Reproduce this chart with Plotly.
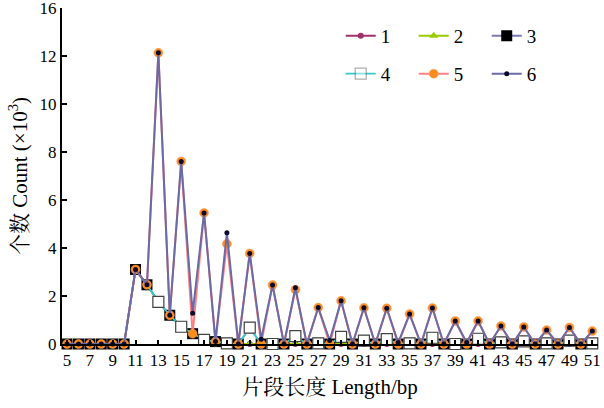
import plotly.graph_objects as go

# ---- data ----
lengths = list(range(5, 52))
s1 = [0, 0, 0, 0, 0, 0, 3.11, 2.47, 1.76, 1.2, 0.72, 0.43, 0.17, 0.1, 0.03, 0,
      0, 0, 0, 0, 0, 0, 0, 0, 0, 0, 0, 0, 0, 0, 0, 0,
      0, 0, 0, 0, 0, 0, 0, 0, 0, 0, 0, 0, 0, 0, 0]
s2 = [0, 0, 0, 0, 0, 0, 3.11, 2.47, 1.76, 1.2, 0.72, 0.43, 0.17, 0.1, 0.03, 0,
      0, 0, 0, 0, 0, 0, 0, 0, 0, 0, 0, 0, 0, 0, 0, 0,
      0, 0, 0, 0, 0, 0, 0, 0, 0, 0, 0, 0, 0, 0, 0]
s3 = [0, 0, 0, 0, 0, 0, 3.11, 2.47, 1.76, 1.2, 0.72, 0.43, 0.17, 0.1, 0.03, 0,
      0.68, 0, 0, 0, 0.33, 0, 0.03, 0, 0.3, 0, 0.14, 0, 0.2, 0, 0.03, 0,
      0.26, 0, 0, 0, 0.22, 0, 0.07, 0, 0.11, 0, 0.03, 0, 0.14, 0, 0.03]
s4 = [0, 0, 0, 0, 0, 0, 3.11, 2.47, 1.76, 1.2, 0.72, 0.43, 0.17, 0.1, 0.03, 0,
      0.68, 0, 0, 0, 0.33, 0, 0.03, 0, 0.3, 0, 0.14, 0, 0.2, 0, 0.03, 0,
      0.26, 0, 0, 0, 0.22, 0, 0.07, 0, 0.11, 0, 0.03, 0, 0.14, 0, 0.03]
s5 = [0, 0, 0, 0, 0, 0, 3.11, 2.47, 12.15, 1.2, 7.62, 0.43, 5.47, 0.1, 4.18, 0,
      3.78, 0, 2.46, 0, 2.27, 0, 1.52, 0, 1.8, 0, 1.51, 0, 1.49, 0, 1.25, 0,
      1.5, 0, 0.96, 0, 0.96, 0, 0.75, 0, 0.71, 0, 0.58, 0, 0.69, 0, 0.54]
s6 = [0, 0, 0, 0, 0, 0, 3.11, 2.47, 12.15, 1.2, 7.62, 1.28, 5.47, 0.1, 4.64, 0,
      3.78, 0.2, 2.46, 0, 2.35, 0, 1.52, 0.15, 1.8, 0, 1.51, 0, 1.49, 0.06, 1.25, 0,
      1.5, 0, 0.96, 0.06, 0.96, 0, 0.75, 0, 0.71, 0, 0.58, 0, 0.69, 0, 0.54]
x_tick_vals = list(range(5, 52, 2))
y_tick_vals = [0, 2, 4, 6, 8, 10, 12, 14]
y_tick_text = ["0", "2", "4", "6", "8", "10", "12", "16"]
names = ["1", "2", "3", "4", "5", "6"]

FONT = "Liberation Serif, Times New Roman, Noto Serif CJK SC, Noto Sans CJK SC, serif"

fig = go.Figure()

# series 4 markers only shown at odd lengths >= 13
s4_opacity = [1 if (x % 2 == 1 and x >= 13) else 0 for x in lengths]

fig.add_trace(go.Scatter(x=lengths, y=s1, name=names[0], mode="lines+markers",
                         line=dict(color="#a0306a", width=1.8),
                         marker=dict(symbol="circle", size=6, color="#a0306a"),
                         legend="legend", cliponaxis=False))
fig.add_trace(go.Scatter(x=lengths, y=s2, name=names[1], mode="lines+markers",
                         line=dict(color="#99cc00", width=1.8),
                         marker=dict(symbol="triangle-up", size=8, color="#99cc00"),
                         legend="legend", cliponaxis=False))
fig.add_trace(go.Scatter(x=lengths, y=s3, name=names[2], mode="lines+markers",
                         line=dict(color="#7a7ab2", width=1.8),
                         marker=dict(symbol="square", size=11, color="#000000"),
                         legend="legend", cliponaxis=False))
fig.add_trace(go.Scatter(x=lengths, y=s4, name=names[3], mode="lines+markers",
                         line=dict(color="#33cccc", width=1.8),
                         marker=dict(symbol="square", size=11, color="#ffffff",
                                     opacity=s4_opacity,
                                     line=dict(color="#444444", width=1.2)),
                         legend="legend2", cliponaxis=False))
fig.add_trace(go.Scatter(x=lengths, y=s5, name=names[4], mode="lines+markers",
                         line=dict(color="#ff8080", width=2),
                         marker=dict(symbol="circle", size=9, color="#ff8c1a",
                                     line=dict(color="#ff9a66", width=0.5)),
                         legend="legend2", cliponaxis=False))
fig.add_trace(go.Scatter(x=lengths, y=s6, name=names[5], mode="lines+markers",
                         line=dict(color="#6a6aa6", width=2),
                         marker=dict(symbol="circle", size=5, color="#0a0a30"),
                         legend="legend2", cliponaxis=False))

fig.update_layout(
    width=604, height=408,
    margin=dict(l=62, r=6, t=8, b=64),
    paper_bgcolor="white", plot_bgcolor="white",
    font=dict(family=FONT, size=17, color="black"),
    legend=dict(orientation="h", x=0.52, xanchor="left", y=0.917, yanchor="middle",
                entrywidth=28, font=dict(size=19), bgcolor="rgba(0,0,0,0)",
                itemwidth=30, tracegroupgap=0),
    legend2=dict(orientation="h", x=0.52, xanchor="left", y=0.804, yanchor="middle",
                 entrywidth=28, font=dict(size=19), bgcolor="rgba(0,0,0,0)",
                 itemwidth=30, tracegroupgap=0),
    xaxis=dict(range=[4.56, 51.5], tickvals=x_tick_vals, ticks="inside", ticklen=4,
               tickwidth=1.5, tickcolor="black", showline=True, linecolor="black",
               linewidth=1.5, showgrid=False, zeroline=False, tickangle=0,
               automargin=False, ticklabeloverflow="allow", tickfont=dict(size=17),
               title=dict(text="片段长度 Length/bp", font=dict(size=21), standoff=10)),
    yaxis=dict(range=[0, 14.02], tickvals=y_tick_vals, ticktext=y_tick_text,
               ticks="inside", ticklen=5, tickwidth=1.5, tickcolor="black",
               showline=True, linecolor="black", linewidth=2, showgrid=False,
               automargin=False, ticklabeloverflow="allow",
               zeroline=False, tickfont=dict(size=17),
               title=dict(text="个数 Count (×10<sup>3</sup>)", font=dict(size=21), standoff=6)),
)

fig.write_html("out.html", config={"displayModeBar": False},
               post_script="document.body.style.margin='0';")
